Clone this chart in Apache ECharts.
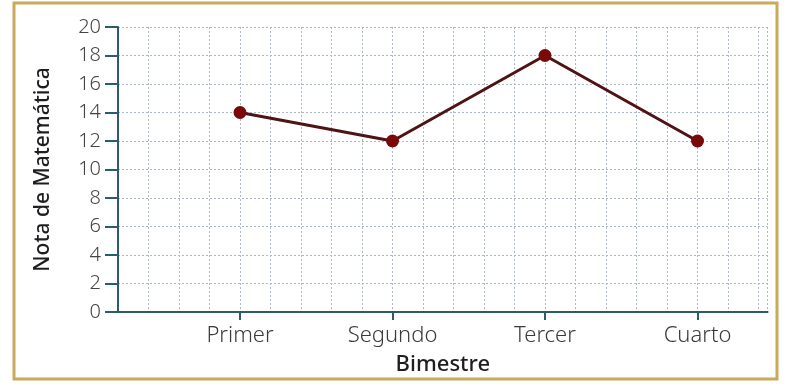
<!DOCTYPE html>
<html>
<head>
<meta charset="utf-8">
<script src="https://cdn.jsdelivr.net/npm/echarts@6/dist/echarts.min.js"></script>
<style>
  html, body { margin: 0; padding: 0; background: #fff; }
  #chart { width: 785px; height: 384px; }
</style>
</head>
<body>
<div id="chart"></div>
<script>
// Bimestres placed on a fine numeric grid (one grid cell = one unit)
const categories = ['Primer', 'Segundo', 'Tercer', 'Cuarto'];
const categoryPositions = [4, 9, 14, 19];
const notas = [14, 12, 18, 12];
const yTicks = [0, 2, 4, 6, 8, 10, 12, 14, 16, 18, 20];

const axisColor = '#2b5c6b';
const gridColor = '#aeb8c2';
const font = 'Noto Sans';

const chart = echarts.init(document.getElementById('chart'), null, { renderer: 'canvas' });

chart.setOption({
  backgroundColor: '#ffffff',
  animation: false,
  graphic: [{
    type: 'rect',
    shape: { x: 14, y: 3, width: 763, height: 376 },
    style: { fill: 'none', stroke: '#c9a95c', lineWidth: 3 },
    z: 100
  }],
  grid: { left: 118, top: 27, right: 17.35, bottom: 72, containLabel: false },
  xAxis: [{
    type: 'value',
    min: 0,
    max: 21.3,
    name: 'Bimestre',
    nameLocation: 'middle',
    nameGap: 42,
    nameTextStyle: { fontFamily: font, fontSize: 22, fontWeight: 500, color: '#1e1e1e' },
    axisLine: { show: true, onZero: true, lineStyle: { color: axisColor, width: 2 } },
    axisTick: { show: true, customValues: categoryPositions, length: 8, lineStyle: { color: axisColor, width: 2 } },
    axisLabel: {
      customValues: categoryPositions,
      margin: 13,
      fontFamily: font, fontSize: 22, fontWeight: 300, color: '#3a3a3a',
      formatter: v => categories[categoryPositions.indexOf(v)] || ''
    },
    splitLine: { show: false }
  }, {
    type: 'value',
    min: 0,
    max: 21.3,
    interval: 1,
    position: 'bottom',
    axisLine: { show: false },
    axisTick: { show: false },
    axisLabel: { show: false },
    splitLine: { show: true, lineStyle: { color: gridColor, type: [2, 2], width: 1 } }
  }],
  yAxis: {
    type: 'value',
    min: 0,
    max: 20,
    interval: 2,
    name: 'Nota de Matemática',
    nameLocation: 'middle',
    nameGap: 64,
    nameTextStyle: { fontFamily: font, fontSize: 21, fontWeight: 500, color: '#1e1e1e' },
    axisLine: { show: true, lineStyle: { color: axisColor, width: 2 } },
    axisTick: { show: true, length: 13, lineStyle: { color: axisColor, width: 2 } },
    axisLabel: { margin: 17, fontFamily: font, fontSize: 20, fontWeight: 300, color: '#444',
      formatter: v => yTicks.includes(v) ? String(v) : '' },
    splitLine: { show: true, lineStyle: { color: gridColor, type: [2, 2], width: 1 } }
  },
  series: [{
    type: 'line',
    xAxisIndex: 0,
    data: categoryPositions.map((x, i) => [x, notas[i]]),
    symbol: 'circle',
    symbolSize: 13,
    lineStyle: { color: '#4e1414', width: 3 },
    itemStyle: { color: '#7a0a0a' },
    z: 10
  }]
});
</script>
</body>
</html>
